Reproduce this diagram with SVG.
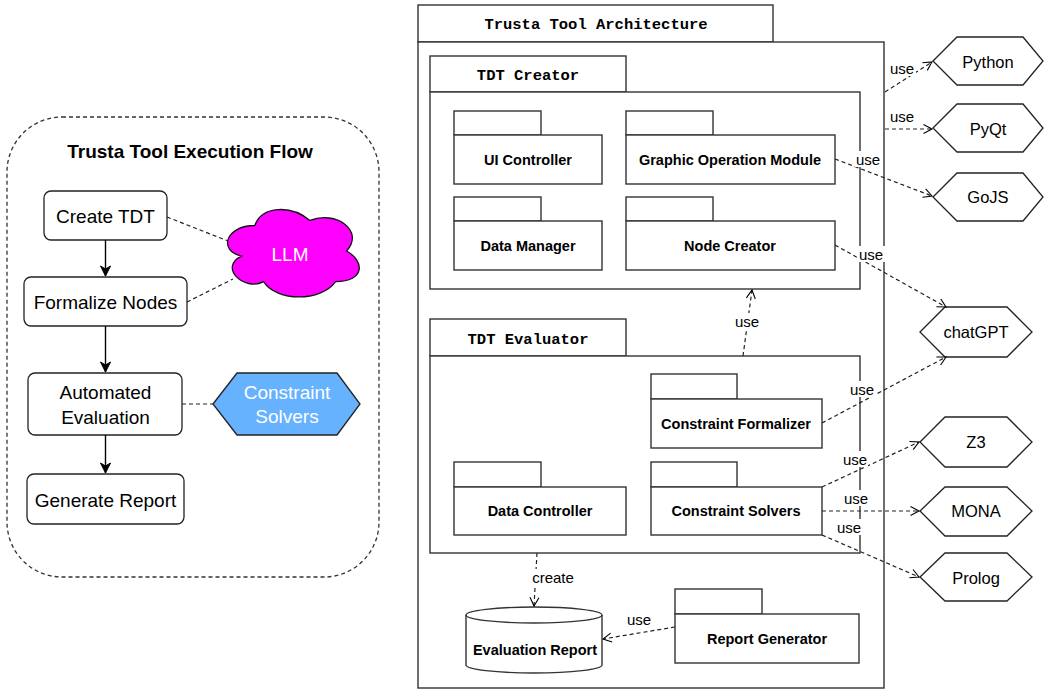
<svg xmlns="http://www.w3.org/2000/svg" width="1048" height="690" viewBox="0 0 1048 690">
<defs>
<marker id="solid" markerUnits="userSpaceOnUse" markerWidth="12" markerHeight="12" viewBox="0 0 12 12" refX="11" refY="6" orient="auto">
<path d="M1,1 L11,6 L1,11 L4,6 Z" fill="#000" stroke="#000" stroke-width="1"/>
</marker>
<marker id="open" markerUnits="userSpaceOnUse" markerWidth="12" markerHeight="12" viewBox="0 0 12 12" refX="10.5" refY="6" orient="auto">
<path d="M2,1.5 L10.5,6 L2,10.5" fill="none" stroke="#000" stroke-width="1.1"/>
</marker>
</defs>
<style>
.box{fill:#fff;stroke:#222;stroke-width:1.3}
.pkg{fill:#fff;stroke:#333;stroke-width:1.4}
.dash{fill:none;stroke:#222;stroke-width:1.2;stroke-dasharray:4 3}
.solid{fill:none;stroke:#000;stroke-width:1.4}
.t{font-family:"Liberation Sans",Arial,sans-serif;fill:#000;text-anchor:middle}
.lt{font-size:19px}
.pt{font-size:14.5px;font-weight:bold}
.mono{font-family:"Liberation Mono","DejaVu Sans Mono",monospace;font-weight:bold;font-size:15.5px;text-anchor:middle;fill:#000}
.ht{font-size:16.5px}
.ut{font-size:15px}
.bg{fill:#fff;stroke:none}
.hex{fill:#fff;stroke:#222;stroke-width:1.3}
</style>
<rect width="1048" height="690" fill="#fff"/>

<!-- Left panel -->
<g id="flow-panel">
<rect x="7" y="117" width="372" height="460" rx="55" ry="55" fill="none" stroke="#333" stroke-width="1.3" stroke-dasharray="4 3"/>
<text class="t" x="190" y="158" font-size="19px" font-weight="bold">Trusta Tool Execution Flow</text>
</g>
<g id="create-tdt">
<rect class="box" x="44" y="191" width="123" height="49" rx="7"/>
<text class="t lt" x="105.5" y="223">Create TDT</text>
</g>
<g id="formalize-nodes">
<rect class="box" x="24" y="277" width="163" height="49" rx="7"/>
<text class="t lt" x="105.5" y="309">Formalize Nodes</text>
</g>
<g id="automated-evaluation">
<rect class="box" x="28" y="373" width="154" height="62" rx="7"/>
<text class="t lt" x="105.5" y="399">Automated</text>
<text class="t lt" x="105.5" y="424">Evaluation</text>
</g>
<g id="generate-report">
<rect class="box" x="27" y="474" width="157" height="50" rx="7"/>
<text class="t lt" x="105.5" y="507">Generate Report</text>
</g>
<g id="llm">
<path d="M254.75,225.5 C225.35,225.5 218,251 241.52,256.1 C218,267.32 244.46,291.8 263.57,281.6 C276.8,302 320.9,302 335.6,281.6 C365,281.6 365,261.2 346.6,251 C365,230.6 335.6,210.2 309.9,220.4 C291.5,205.1 262.1,205.1 254.75,225.5 Z" fill="#FF00FF" stroke="#111" stroke-width="1.3"/>
<text class="t lt" x="290" y="261" fill="#fff" style="fill:#fff">LLM</text>
</g>
<g id="constraint-solvers-hex">
<polygon points="213,404 237,373 337,373 360,404 337,435 237,435" fill="#66B2FF" stroke="#222" stroke-width="1.3"/>
<text class="t lt" x="287" y="399" style="fill:#fff">Constraint</text>
<text class="t lt" x="287" y="423" style="fill:#fff">Solvers</text>
</g>

<!-- Architecture -->
<g id="trusta-architecture">
<rect class="pkg" x="418" y="5" width="355" height="37"/>
<rect class="pkg" x="418" y="42" width="466" height="646"/>
<text class="mono" x="596" y="29">Trusta Tool Architecture</text>
</g>
<g id="tdt-creator">
<rect class="pkg" x="430" y="56" width="196" height="36"/>
<rect class="pkg" x="430" y="92" width="430" height="197"/>
<text class="mono" x="528" y="80">TDT Creator</text>
</g>
<g id="ui-controller">
<rect class="pkg" x="454" y="111" width="87" height="24"/>
<rect class="pkg" x="454" y="135" width="148" height="49"/>
<text class="t pt" x="528" y="165">UI Controller</text>
</g>
<g id="graphic-operation-module">
<rect class="pkg" x="626" y="111" width="87" height="24"/>
<rect class="pkg" x="626" y="135" width="209" height="49"/>
<text class="t pt" x="730" y="165">Graphic Operation Module</text>
</g>
<g id="data-manager">
<rect class="pkg" x="454" y="197" width="87" height="24"/>
<rect class="pkg" x="454" y="221" width="148" height="49"/>
<text class="t pt" x="528" y="251">Data Manager</text>
</g>
<g id="node-creator">
<rect class="pkg" x="626" y="197" width="87" height="24"/>
<rect class="pkg" x="626" y="221" width="209" height="49"/>
<text class="t pt" x="730" y="251">Node Creator</text>
</g>
<g id="tdt-evaluator">
<rect class="pkg" x="430" y="319" width="196" height="37"/>
<rect class="pkg" x="430" y="356" width="430" height="197"/>
<text class="mono" x="528" y="344">TDT Evaluator</text>
</g>
<g id="constraint-formalizer">
<rect class="pkg" x="651" y="374" width="86" height="25"/>
<rect class="pkg" x="651" y="399" width="171" height="49"/>
<text class="t pt" x="736" y="429">Constraint Formalizer</text>
</g>
<g id="data-controller">
<rect class="pkg" x="454" y="462" width="87" height="25"/>
<rect class="pkg" x="454" y="487" width="172" height="48"/>
<text class="t pt" x="540" y="516">Data Controller</text>
</g>
<g id="constraint-solvers">
<rect class="pkg" x="651" y="462" width="86" height="25"/>
<rect class="pkg" x="651" y="487" width="171" height="48"/>
<text class="t pt" x="736" y="516">Constraint Solvers</text>
</g>
<g id="report-generator">
<rect class="pkg" x="675" y="589" width="87" height="25"/>
<rect class="pkg" x="675" y="614" width="184" height="49"/>
<text class="t pt" x="767" y="644">Report Generator</text>
</g>
<g id="evaluation-report">
<path d="M466,615 A68,8 0 0 1 602,615 L602,665 A68,8 0 0 1 466,665 Z" fill="#fff" stroke="#333" stroke-width="1.4"/>
<path d="M466,615 A68,8 0 0 0 602,615" fill="none" stroke="#333" stroke-width="1.4"/>
<text class="t pt" x="535" y="655">Evaluation Report</text>
</g>

<!-- External hexagons -->
<g id="python">
<polygon class="hex" points="933,61 957,37 1023,37 1043,61 1023,85 957,85"/>
<text class="t ht" x="988" y="68">Python</text>
</g>
<g id="pyqt">
<polygon class="hex" points="933,128 957,104 1023,104 1043,128 1023,152 957,152"/>
<text class="t ht" x="988" y="135">PyQt</text>
</g>
<g id="gojs">
<polygon class="hex" points="933,197 957,173 1023,173 1043,197 1023,221 957,221"/>
<text class="t ht" x="988" y="203">GoJS</text>
</g>
<g id="chatgpt">
<polygon class="hex" points="920,332 945,307 1007,307 1032,332 1007,357 945,357"/>
<text class="t ht" x="976" y="338">chatGPT</text>
</g>
<g id="z3">
<polygon class="hex" points="920,442 945,417 1007,417 1032,442 1007,467 945,467"/>
<text class="t ht" x="976" y="448">Z3</text>
</g>
<g id="mona">
<polygon class="hex" points="920,511 945,487 1007,487 1032,511 1007,536 945,536"/>
<text class="t ht" x="976" y="517">MONA</text>
</g>
<g id="prolog">
<polygon class="hex" points="920,577 945,553 1007,553 1032,577 1007,601 945,601"/>
<text class="t ht" x="976" y="584">Prolog</text>
</g>

<!-- Connectors -->
<g id="connectors">
<line class="solid" x1="105.5" y1="240" x2="105.5" y2="276" marker-end="url(#solid)"/>
<line class="solid" x1="105.5" y1="326" x2="105.5" y2="372" marker-end="url(#solid)"/>
<line class="solid" x1="105.5" y1="435" x2="105.5" y2="473" marker-end="url(#solid)"/>
<line class="dash" x1="167" y1="217" x2="228" y2="241"/>
<line class="dash" x1="187" y1="302" x2="233" y2="279"/>
<line class="dash" x1="182" y1="404" x2="213" y2="404"/>

<line class="dash" x1="885" y1="92" x2="932" y2="62" marker-end="url(#open)"/>
<line class="dash" x1="885" y1="129" x2="932" y2="129" marker-end="url(#open)"/>
<line class="dash" x1="835" y1="159" x2="932" y2="196" marker-end="url(#open)"/>
<line class="dash" x1="835" y1="245" x2="946" y2="307" marker-end="url(#open)"/>
<line class="dash" x1="822" y1="423" x2="946" y2="357" marker-end="url(#open)"/>
<line class="dash" x1="822" y1="487" x2="919" y2="442" marker-end="url(#open)"/>
<line class="dash" x1="822" y1="511" x2="919" y2="511" marker-end="url(#open)"/>
<line class="dash" x1="822" y1="535" x2="919" y2="577" marker-end="url(#open)"/>
<line class="dash" x1="743" y1="356" x2="752" y2="290" marker-end="url(#open)"/>
<line class="dash" x1="537" y1="553" x2="534" y2="606" marker-end="url(#open)"/>
<line class="dash" x1="675" y1="627" x2="603" y2="639" marker-end="url(#open)"/>

<rect class="bg" x="889" y="60" width="27" height="16"/>
<text class="t ut" x="902" y="74">use</text>
<rect class="bg" x="889" y="108" width="27" height="16"/>
<text class="t ut" x="902" y="122">use</text>
<rect class="bg" x="855" y="151" width="27" height="16"/>
<text class="t ut" x="868" y="165">use</text>
<rect class="bg" x="858" y="246" width="27" height="16"/>
<text class="t ut" x="871" y="260">use</text>
<rect class="bg" x="734" y="313" width="27" height="16"/>
<text class="t ut" x="747" y="327">use</text>
<rect class="bg" x="849" y="381" width="27" height="16"/>
<text class="t ut" x="862" y="395">use</text>
<rect class="bg" x="841" y="451" width="27" height="16"/>
<text class="t ut" x="855" y="465">use</text>
<rect class="bg" x="842" y="490" width="27" height="16"/>
<text class="t ut" x="856" y="504">use</text>
<rect class="bg" x="835" y="519" width="27" height="16"/>
<text class="t ut" x="849" y="533">use</text>
<rect class="bg" x="530" y="569" width="46" height="16"/>
<text class="t ut" x="553" y="583">create</text>
<rect class="bg" x="625" y="611" width="27" height="16"/>
<text class="t ut" x="639" y="625">use</text>
</g>
</svg>
